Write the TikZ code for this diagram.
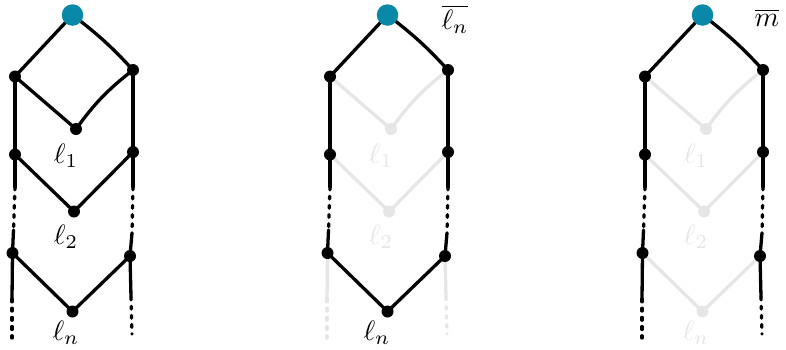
\documentclass[tikz,border=0pt]{standalone}
\usepackage{graphicx}
\usetikzlibrary{calc}
\definecolor{topblue}{HTML}{0A88A8}
\definecolor{faint}{HTML}{E6E6E6}
\tikzset{
  edge/.style={line width=3.3pt, line cap=round, line join=round},
  dashedge/.style={edge, dash pattern=on 2.8pt off 6.4pt},
  vert/.style={circle, inner sep=0pt, minimum size=12pt},
  topvert/.style={circle, inner sep=0pt, minimum size=21.5pt, fill=topblue},
  lab/.style={inner sep=0pt},
}
\newcommand\biglab[1]{\scalebox{2.8}{$#1$}}
\newcommand\drawpanel[7]{%
% #1 x-offset, #2 prefix, #3 colour of l1/l2 V's, #4 colour of ln V, #5 colour of bottom verticals, #6 corner label, #7 x of ln label
\begin{scope}[shift={(#1,0)}]
  \coordinate (#2T) at (72.5,15);
  \coordinate (#2L1) at (15,76.5);
  \coordinate (#2R1) at (133,70);
  \coordinate (#2M1) at (76,129);
  \coordinate (#2L2) at (15,154.5);
  \coordinate (#2R2) at (133,152);
  \coordinate (#2M2) at (74,211.5);
  \coordinate (#2L3) at (12.5,253);
  \coordinate (#2R3) at (130,256);
  \coordinate (#2M3) at (72.5,311.5);
  \coordinate (#2la) at (15,187);
  \coordinate (#2lb) at (13.5,230);
  \coordinate (#2ra) at (133,187);
  \coordinate (#2rb) at (132,233);
  \coordinate (#2lc) at (12,299);
  \coordinate (#2ld) at (12,338);
  \coordinate (#2rc) at (131,297);
  \coordinate (#2rd) at (132,334);
  % V's of l1, l2
  \draw[edge, #3] (#2L1) -- (#2M1) to[bend left=8] (#2R1);
  \draw[edge, #3] (#2L2) -- (#2M2) -- (#2R2);
  % V of ln
  \draw[edge, #4] (#2L3) -- (#2M3) -- (#2R3);
  % bottom verticals
  \draw[edge, #5] (#2L3) -- (#2lc);
  \draw[dashedge, #5] (#2lc) -- (#2ld);
  \draw[edge, #5] (#2R3) -- (#2rc);
  \draw[dashedge, #5] (#2rc) -- (#2rd);
  % always black
  \draw[edge] (#2L1) -- (#2T) to[bend left=5] (#2R1);
  \draw[edge] (#2L1) -- (#2L2) -- (#2la);
  \draw[dashedge] (#2la) -- (#2lb);
  \draw[edge] (#2lb) -- (#2L3);
  \draw[edge] (#2R1) -- (#2R2) -- (#2ra);
  \draw[dashedge] (#2ra) -- (#2rb);
  \draw[edge] (#2rb) -- (#2R3);
  % vertices
  \node[topvert] (#2t) at (#2T) {};
  \foreach \v in {L1,R1,L2,R2,L3,R3}{\node[vert, fill=black] (#2n\v) at (#2\v) {};}
  \node[vert, fill=#3] (#2m1) at (#2M1) {};
  \node[vert, fill=#3] (#2m2) at (#2M2) {};
  \node[vert, fill=#4] (#2m3) at (#2M3) {};
  \node[lab, text=#3] (#2x1) at (66,156) {\biglab{\ell_1}};
  \node[lab, text=#3] (#2x2) at (66,237) {\biglab{\ell_2}};
  \node[lab, text=#4] (#2x3) at (#7,333) {\biglab{\ell_n}};
  #6
\end{scope}}
\begin{document}
\begin{tikzpicture}[x=1pt,y=-1pt]
\useasboundingbox (0,0) rectangle (786,349);
\drawpanel{0}{a}{black}{black}{black}{}{66}
\drawpanel{315}{b}{faint}{black}{faint}{\node[lab] (bc) at (140,19) {\biglab{\overline{\ell_n}}};}{62}
\drawpanel{630}{c}{faint}{faint}{black}{\node[lab] (cc) at (137,18) {\biglab{\overline{m}}};}{66}
\end{tikzpicture}
\end{document}
